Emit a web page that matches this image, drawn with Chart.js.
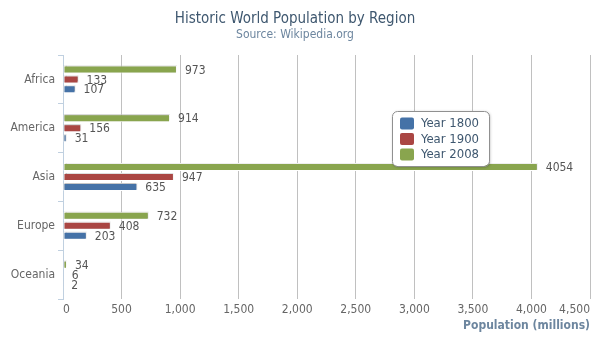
<!DOCTYPE html>
<html>
<head>
<meta charset="utf-8">
<script src="https://cdn.jsdelivr.net/npm/chart.js@4/dist/chart.umd.min.js"></script>
<style>
    html, body { margin: 0; padding: 0; background: #fff; }
    #wrap { width: 600px; height: 350px; }
</style>
</head>
<body>
<div id="wrap"><canvas id="popChart" width="600" height="350"></canvas></div>
<script>
// ============================== DATA ==============================
const regions = ['Africa', 'America', 'Asia', 'Europe', 'Oceania'];
const year1800 = [107, 31, 635, 203, 2];
const year1900 = [133, 156, 947, 408, 6];
const year2008 = [973, 914, 4054, 732, 34];
const xTicksMax = 4500;
const xTicksStep = 500;

const FONT = '"DejaVu Sans Condensed", "Liberation Sans", sans-serif';

// ============================== PLUGINS ==============================
// soft shadow under the bars + value labels to the right of each bar
const barExtras = {
    id: 'barExtras',
    beforeDatasetsDraw(chart) {
        const ctx = chart.ctx;
        ctx.save();
        ctx.shadowColor = 'rgba(0,0,0,0.25)';
        ctx.shadowBlur = 1;
        ctx.shadowOffsetX = 0;
        ctx.shadowOffsetY = -1;
    },
    afterDatasetsDraw(chart) {
        const ctx = chart.ctx;
        ctx.restore();
        ctx.save();
        ctx.font = '12px ' + FONT;
        ctx.fillStyle = '#555';
        ctx.textAlign = 'left';
        ctx.textBaseline = 'middle';
        chart.data.datasets.forEach((ds, i) => {
            chart.getDatasetMeta(i).data.forEach((bar, j) => {
                ctx.fillText(ds.data[j], bar.x + 8, bar.y + 1);
            });
        });
        ctx.restore();
    }
};

// floating legend box (1800 first, like the series order)
const floatLegend = {
    id: 'floatLegend',
    afterDraw(chart) {
        const ctx = chart.ctx;
        const items = chart.data.datasets.slice().reverse();
        const x = 392, y = 111, w = 97, h = 55;
        ctx.save();
        ctx.shadowColor = 'rgba(0,0,0,0.3)';
        ctx.shadowBlur = 3;
        ctx.shadowOffsetX = 1;
        ctx.shadowOffsetY = 1;
        ctx.beginPath();
        ctx.roundRect(x, y, w, h, 5);
        ctx.fillStyle = '#fff';
        ctx.fill();
        ctx.restore();

        ctx.save();
        ctx.beginPath();
        ctx.roundRect(x + 0.5, y + 0.5, w, h, 5);
        ctx.strokeStyle = '#909090';
        ctx.lineWidth = 1;
        ctx.stroke();

        ctx.font = '13px ' + FONT;
        ctx.textAlign = 'left';
        ctx.textBaseline = 'middle';
        items.forEach((ds, i) => {
            const cy = y + 12.5 + i * 15.5;
            ctx.beginPath();
            ctx.roundRect(x + 8, cy - 6, 14, 12, 2);
            ctx.fillStyle = ds.backgroundColor;
            ctx.fill();
            ctx.fillStyle = '#3E576F';
            ctx.fillText(ds.label, x + 29, cy + 0.5);
        });
        ctx.restore();
    }
};

// ============================== CHART ==============================
function createBarSet(label, data, color) {
    return {
        label: label,
        data: data,
        backgroundColor: color,
        borderColor: '#ffffff',
        borderWidth: 1,
        borderSkipped: false,
        categoryPercentage: 0.612,
        barPercentage: 0.8
    };
}

const ctx = document.getElementById('popChart').getContext('2d');
const popChart = new Chart(ctx, {
    type: 'bar',
    data: {
        labels: regions,
        // top-to-bottom drawing order inside each region
        datasets: [
            createBarSet('Year 2008', year2008, '#89A54E'),
            createBarSet('Year 1900', year1900, '#AA4643'),
            createBarSet('Year 1800', year1800, '#4572A7')
        ]
    },
    options: {
        indexAxis: 'y',
        responsive: false,
        animation: false,
        layout: { padding: { top: 10, right: 10, bottom: 17, left: 0 } },
        plugins: {
            legend: { display: false },
            tooltip: { enabled: false },
            title: {
                display: true,
                text: 'Historic World Population by Region',
                color: '#3E576F',
                font: { family: FONT, size: 15, weight: 'normal' },
                padding: { top: 0, bottom: 0 }
            },
            subtitle: {
                display: true,
                text: 'Source: Wikipedia.org',
                color: '#6D869F',
                font: { family: FONT, size: 12, weight: 'normal' },
                padding: { top: 0, bottom: 12.6 }
            }
        },
        scales: {
            x: {
                min: 0,
                max: xTicksMax,
                ticks: {
                    stepSize: xTicksStep,
                    align: 'inner',
                    padding: 4,
                    color: '#666',
                    font: { family: FONT, size: 12 },
                    callback: v => v.toLocaleString('en-US')
                },
                grid: {
                    color: c => c.index === 0 ? 'rgba(0,0,0,0)' : '#C0C0C0',
                    drawTicks: false
                },
                border: { display: false },
                title: {
                    display: true,
                    text: 'Population (millions)',
                    align: 'end',
                    color: '#6D869F',
                    font: { family: FONT, size: 12, weight: 'bold' },
                    padding: { top: 4, bottom: 0 }
                },
                afterFit: scale => { scale.height = 34; }
            },
            y: {
                ticks: {
                    padding: 3,
                    color: '#666',
                    font: { family: FONT, size: 12 }
                },
                grid: {
                    offset: true,
                    drawOnChartArea: false,
                    color: '#C0D0E0',
                    tickLength: 5
                },
                border: { color: '#C0D0E0', width: 1 },
                afterFit: scale => { scale.width = 63; }
            }
        }
    },
    plugins: [barExtras, floatLegend]
});
</script>
</body>
</html>
